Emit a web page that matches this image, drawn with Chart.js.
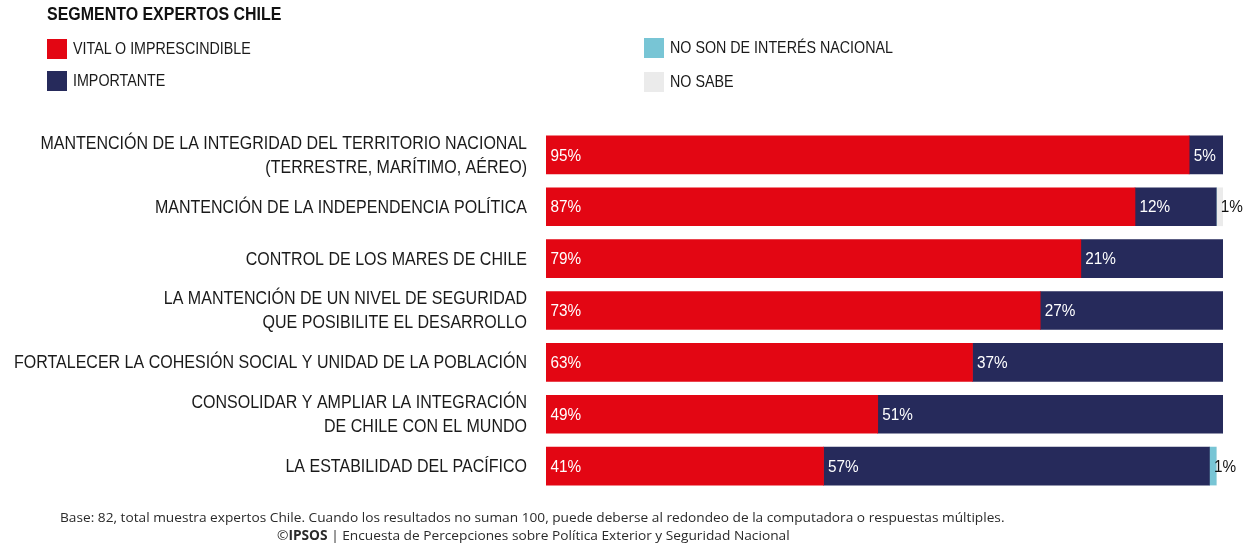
<!DOCTYPE html>
<html>
<head>
<meta charset="utf-8">
<script src="https://cdn.jsdelivr.net/npm/chart.js@4"></script>
<style>
  html, body { margin: 0; padding: 0; background: #fff; }
  body { width: 1253px; height: 546px; position: relative; overflow: hidden;
         font-family: "Liberation Sans", Arial, sans-serif; color: #1a1a1a; }
  #wrap { position: absolute; left: 0; top: 0; width: 1253px; height: 546px; }
  .title { position: absolute; left: 47px; top: 3px; font-size: 19px; font-weight: bold; color: #111;
           white-space: nowrap; transform: scaleX(0.84); transform-origin: 0 0; }
  .key { position: absolute; font-size: 17px; line-height: 20px; }
  .key i { position: absolute; left: 0; top: 0; width: 20px; height: 20px; }
  .key span { position: absolute; left: 26px; top: 0; white-space: nowrap;
              transform: scaleX(0.84); transform-origin: 0 0; }
  .foot { position: absolute; font-family: "Open Sans", sans-serif; font-size: 13.5px; line-height: 18px;
          color: #2a2a2a; white-space: nowrap; transform-origin: 0 0; }
</style>
</head>
<body>
<div id="wrap"><canvas id="chart" width="1253" height="546"></canvas></div>
<div class="title">SEGMENTO EXPERTOS CHILE</div>
<div class="key" style="left:47px;top:39px"><i style="background:#E30613"></i><span>VITAL O IMPRESCINDIBLE</span></div>
<div class="key" style="left:47px;top:71px"><i style="background:#262A5B"></i><span>IMPORTANTE</span></div>
<div class="key" style="left:644px;top:38px"><i style="background:#78C5D5"></i><span>NO SON DE INTERÉS NACIONAL</span></div>
<div class="key" style="left:644px;top:72px"><i style="background:#EBEBEB"></i><span>NO SABE</span></div>
<div class="foot" data-w="945" style="left:60px;top:508px">Base: 82, total muestra expertos Chile. Cuando los resultados no suman 100, puede deberse al redondeo de la computadora o respuestas múltiples.</div>
<div class="foot" data-w="513" style="left:277px;top:526px">©<b>IPSOS</b> | Encuesta de Percepciones sobre Política Exterior y Seguridad Nacional</div>
<script>
const categories = [
  ["MANTENCIÓN DE LA INTEGRIDAD DEL TERRITORIO NACIONAL", "(TERRESTRE, MARÍTIMO, AÉREO)"],
  "MANTENCIÓN DE LA INDEPENDENCIA POLÍTICA",
  "CONTROL DE LOS MARES DE CHILE",
  ["LA MANTENCIÓN DE UN NIVEL DE SEGURIDAD", "QUE POSIBILITE EL DESARROLLO"],
  "FORTALECER LA COHESIÓN SOCIAL Y UNIDAD DE LA POBLACIÓN",
  ["CONSOLIDAR Y AMPLIAR LA INTEGRACIÓN", "DE CHILE CON EL MUNDO"],
  "LA ESTABILIDAD DEL PACÍFICO"
];
const vital      = [95, 87, 79, 73, 63, 49, 41];
const importante = [5, 12, 21, 27, 37, 51, 57];
const noInteres  = [0, 0, 0, 0, 0, 0, 1];
const noSabe     = [0, 1, 0, 0, 0, 0, 0];

const FONT = '"Liberation Sans", Arial, sans-serif';

// squeeze the footer lines to their box width (no narrow font installed)
document.querySelectorAll('.foot').forEach(el => {
  el.style.transform = 'scaleX(' + (el.dataset.w / el.scrollWidth) + ')';
});

// narrow text: regular face squeezed horizontally
function narrowText(ctx, text, x, y, sx) {
  ctx.save();
  ctx.translate(x, y);
  ctx.scale(sx, 1);
  ctx.fillText(text, 0, 0);
  ctx.restore();
}

// category names to the left of the bars
const categoryLabels = {
  id: 'categoryLabels',
  afterDraw(chart) {
    const ctx = chart.ctx;
    const yScale = chart.scales.y;
    ctx.save();
    ctx.font = '18px ' + FONT;
    ctx.fillStyle = '#1a1a1a';
    ctx.textAlign = 'right';
    ctx.textBaseline = 'middle';
    chart.data.labels.forEach((lab, i) => {
      const yc = yScale.getPixelForValue(i);
      const lines = Array.isArray(lab) ? lab : [lab];
      const step = 24;
      const y0 = yc + 1 - (lines.length - 1) * step / 2;
      lines.forEach((t, k) => narrowText(ctx, t, 527, y0 + k * step, 0.89));
    });
    ctx.restore();
  }
};

// percentage written at the start of each segment
const segmentLabels = {
  id: 'segmentLabels',
  afterDatasetsDraw(chart) {
    const ctx = chart.ctx;
    ctx.save();
    ctx.font = '17px ' + FONT;
    ctx.textBaseline = 'middle';
    ctx.textAlign = 'left';
    chart.data.datasets.forEach((ds, di) => {
      const meta = chart.getDatasetMeta(di);
      meta.data.forEach((bar, i) => {
        const v = ds.data[i];
        if (!v) return;
        ctx.fillStyle = ds.labelColor;
        narrowText(ctx, v + '%', bar.base + 4.5, bar.y + 1, 0.9);
      });
    });
    ctx.restore();
  }
};

new Chart(document.getElementById('chart'), {
  type: 'bar',
  data: {
    labels: categories,
    datasets: [
      { label: 'VITAL O IMPRESCINDIBLE', data: vital, backgroundColor: '#E30613', labelColor: '#fff' },
      { label: 'IMPORTANTE', data: importante, backgroundColor: '#262A5B', labelColor: '#fff' },
      { label: 'NO SON DE INTERÉS NACIONAL', data: noInteres, backgroundColor: '#78C5D5', labelColor: '#111' },
      { label: 'NO SABE', data: noSabe, backgroundColor: '#EBEBEB', labelColor: '#111' }
    ]
  },
  options: {
    indexAxis: 'y',
    responsive: false,
    animation: false,
    barThickness: 38,
    layout: { padding: { top: 129, bottom: 54, right: 30, left: 546 } },
    plugins: { legend: { display: false }, tooltip: { enabled: false } },
    scales: {
      x: { stacked: true, min: 0, max: 100, display: false },
      y: { stacked: true, display: false }
    }
  },
  plugins: [categoryLabels, segmentLabels]
});
</script>
</body>
</html>
